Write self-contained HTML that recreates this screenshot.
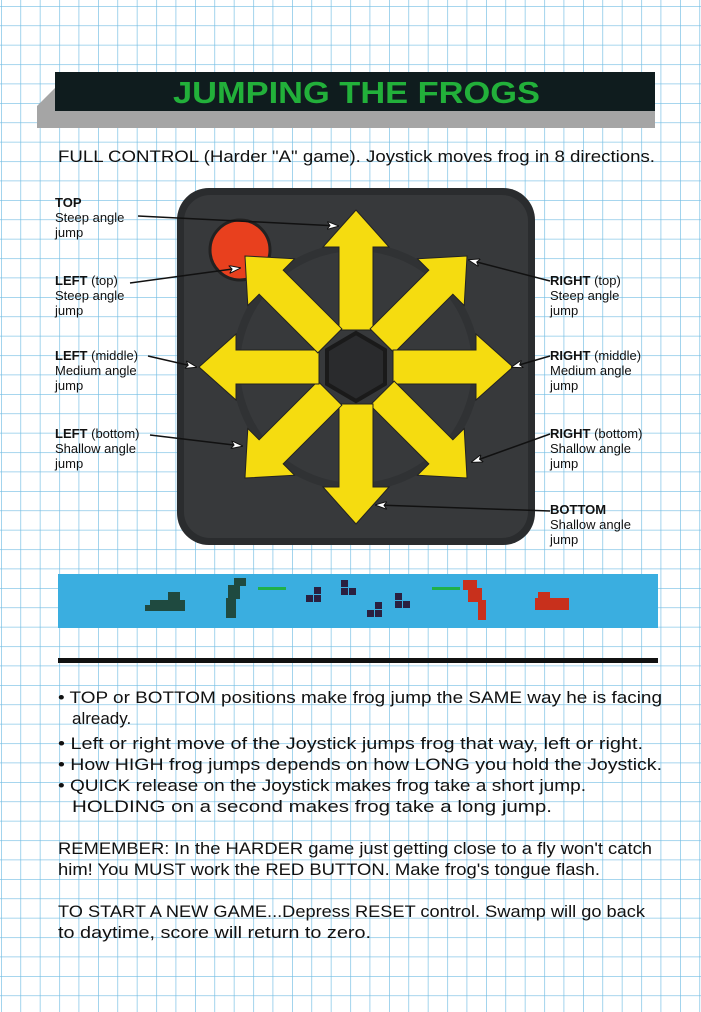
<!DOCTYPE html>
<html><head><meta charset="utf-8"><style>
html,body{margin:0;padding:0;background:#fff}
svg{display:block}
text{font-family:"Liberation Sans",sans-serif;fill:#111}
.m{font-size:17px}
.l{font-size:13px}
.b{font-weight:bold}
</style></head><body>
<svg width="701" height="1012" viewBox="0 0 701 1012" xmlns="http://www.w3.org/2000/svg">
<defs>
<pattern id="g" width="19.4" height="19.4" patternUnits="userSpaceOnUse" x="1" y="6">
<path d="M0 0H19.4M0 0V19.4" stroke="#72bde3" stroke-width="1.3" fill="none"/>
</pattern>
<marker id="ah" markerWidth="12" markerHeight="8" refX="11" refY="4" orient="auto" markerUnits="userSpaceOnUse">
<path d="M0 0L12 4L0 8L3 4Z" fill="#fff" stroke="#111" stroke-width="1"/>
</marker>
<polygon id="arr" points="-17,-37 17,-37 17,-120 33,-120 0,-157 -33,-120 -17,-120" fill="#f5dc10" stroke="#222" stroke-width="1"/>
</defs>
<rect width="701" height="1012" fill="#fff"/>
<rect width="701" height="1012" fill="url(#g)"/>
<polygon points="37,128 655,128 655,110 55,110 55,88 37,106" fill="#a5a5a5"/>
<rect x="55" y="72" width="600" height="39" fill="#0f1c1e"/>
<text x="173" y="103" class="b" font-size="31" style="fill:#22b03a" textLength="367" lengthAdjust="spacingAndGlyphs">JUMPING THE FROGS</text>
<text x="58" y="162" class="m" textLength="597" lengthAdjust="spacingAndGlyphs">FULL CONTROL (Harder "A" game). Joystick moves frog in 8 directions.</text>
<rect x="177" y="188" width="358" height="357" rx="32" fill="#2a2c2e"/>
<rect x="184" y="195" width="344" height="343" rx="26" fill="#37393b"/>
<circle cx="356" cy="367" r="120" fill="none" stroke="#303234" stroke-width="8"/>
<circle cx="240" cy="250" r="30" fill="#e8401e" stroke="#222" stroke-width="3"/>
<polygon points="356,333 385,350 385,384 356,401 327,384 327,350" fill="#2a2b2d" stroke="#1a1a1a" stroke-width="4"/>
<g transform="translate(356,367)">
<use href="#arr"/>
<use href="#arr" transform="rotate(45)"/>
<use href="#arr" transform="rotate(90)"/>
<use href="#arr" transform="rotate(135)"/>
<use href="#arr" transform="rotate(180)"/>
<use href="#arr" transform="rotate(225)"/>
<use href="#arr" transform="rotate(270)"/>
<use href="#arr" transform="rotate(315)"/>
</g>
<g class="l">
<text x="55" y="207" class="b l">TOP</text>
<text x="55" y="222" class="l">Steep angle</text>
<text x="55" y="237" class="l">jump</text>
<text x="55" y="285" class="l"><tspan class="b">LEFT</tspan> (top)</text>
<text x="55" y="300" class="l">Steep angle</text>
<text x="55" y="315" class="l">jump</text>
<text x="55" y="360" class="l"><tspan class="b">LEFT</tspan> (middle)</text>
<text x="55" y="375" class="l">Medium angle</text>
<text x="55" y="390" class="l">jump</text>
<text x="55" y="438" class="l"><tspan class="b">LEFT</tspan> (bottom)</text>
<text x="55" y="453" class="l">Shallow angle</text>
<text x="55" y="468" class="l">jump</text>
<text x="550" y="285" class="l"><tspan class="b">RIGHT</tspan> (top)</text>
<text x="550" y="300" class="l">Steep angle</text>
<text x="550" y="315" class="l">jump</text>
<text x="550" y="360" class="l"><tspan class="b">RIGHT</tspan> (middle)</text>
<text x="550" y="375" class="l">Medium angle</text>
<text x="550" y="390" class="l">jump</text>
<text x="550" y="438" class="l"><tspan class="b">RIGHT</tspan> (bottom)</text>
<text x="550" y="453" class="l">Shallow angle</text>
<text x="550" y="468" class="l">jump</text>
<text x="550" y="514" class="b l">BOTTOM</text>
<text x="550" y="529" class="l">Shallow angle</text>
<text x="550" y="544" class="l">jump</text>
</g>
<g stroke="#111" stroke-width="1.5" fill="none" marker-end="url(#ah)">
<line x1="138" y1="216" x2="338" y2="226"/>
<line x1="130" y1="283" x2="240" y2="268"/>
<line x1="148" y1="356" x2="196" y2="367"/>
<line x1="150" y1="435" x2="242" y2="446"/>
<line x1="550" y1="281" x2="469" y2="260"/>
<line x1="550" y1="356" x2="512" y2="367"/>
<line x1="550" y1="434" x2="472" y2="462"/>
<line x1="550" y1="511" x2="376" y2="505"/>
</g>
<rect x="58" y="574" width="600" height="54" fill="#3aaee0"/>
<g fill="#1f4a40">
<rect x="150" y="600" width="35" height="11"/><rect x="168" y="592" width="12" height="10"/><rect x="145" y="605" width="10" height="6"/>
<rect x="228" y="585" width="12" height="14"/><rect x="234" y="578" width="12" height="8"/><rect x="226" y="598" width="10" height="20"/>
</g>
<rect x="258" y="587" width="28" height="3" fill="#20b048"/>
<rect x="432" y="587" width="28" height="3" fill="#20b048"/>
<g fill="#2a2040">
<rect x="306" y="595" width="7" height="7"/><rect x="314" y="587" width="7" height="7"/><rect x="314" y="595" width="7" height="7"/>
<rect x="341" y="580" width="7" height="7"/><rect x="341" y="588" width="7" height="7"/><rect x="349" y="588" width="7" height="7"/>
<rect x="367" y="610" width="7" height="7"/><rect x="375" y="610" width="7" height="7"/><rect x="375" y="602" width="7" height="7"/>
<rect x="395" y="593" width="7" height="7"/><rect x="395" y="601" width="7" height="7"/><rect x="403" y="601" width="7" height="7"/>
</g>
<g fill="#c8301c">
<rect x="463" y="580" width="14" height="10"/><rect x="468" y="588" width="14" height="14"/><rect x="478" y="600" width="8" height="20"/>
<rect x="535" y="598" width="34" height="12"/><rect x="538" y="592" width="12" height="8"/>
</g>
<rect x="58" y="658" width="600" height="5" fill="#111"/>
<g class="m">
<text x="58" y="703" class="m" textLength="604" lengthAdjust="spacingAndGlyphs">• TOP or BOTTOM positions make frog jump the SAME way he is facing</text>
<text x="72" y="724" class="m">already.</text>
<text x="58" y="749" class="m" textLength="585" lengthAdjust="spacingAndGlyphs">• Left or right move of the Joystick jumps frog that way, left or right.</text>
<text x="58" y="770" class="m" textLength="604" lengthAdjust="spacingAndGlyphs">• How HIGH frog jumps depends on how LONG you hold the Joystick.</text>
<text x="58" y="791" class="m" textLength="528" lengthAdjust="spacingAndGlyphs">• QUICK release on the Joystick makes frog take a short jump.</text>
<text x="72" y="812" class="m" textLength="480" lengthAdjust="spacingAndGlyphs">HOLDING on a second makes frog take a long jump.</text>
<text x="58" y="854" class="m" textLength="594" lengthAdjust="spacingAndGlyphs">REMEMBER: In the HARDER game just getting close to a fly won't catch</text>
<text x="58" y="875" class="m" textLength="542" lengthAdjust="spacingAndGlyphs">him! You MUST work the RED BUTTON. Make frog's tongue flash.</text>
<text x="58" y="917" class="m" textLength="587" lengthAdjust="spacingAndGlyphs">TO START A NEW GAME...Depress RESET control. Swamp will go back</text>
<text x="58" y="938" class="m" textLength="313" lengthAdjust="spacingAndGlyphs">to daytime, score will return to zero.</text>
</g>
</svg>
</body></html>
